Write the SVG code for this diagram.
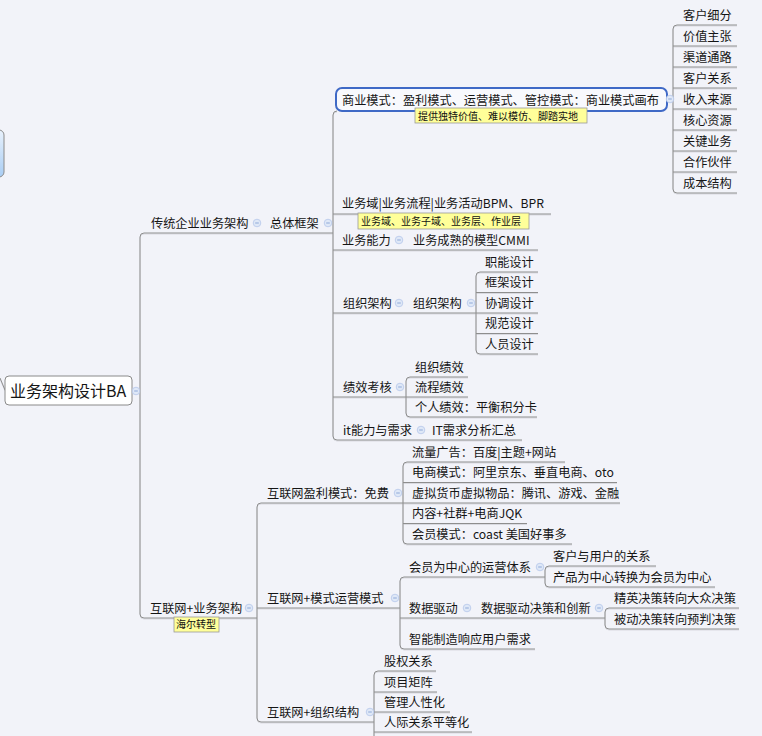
<svg xmlns="http://www.w3.org/2000/svg" xmlns:xlink="http://www.w3.org/1999/xlink" width="762" height="736" viewBox="0 0 762 736">
<style>
text{font-family:"Noto Sans CJK SC","Noto Sans",sans-serif;font-size:12.2px;fill:#151515}
.n{font-size:10px;fill:#111}
.r{font-size:16px}
.note{fill:#ffff99;stroke:#9a9a9a;stroke-width:0.8}
</style>
<defs>
<linearGradient id="bg1" x1="0" y1="0" x2="0" y2="1">
<stop offset="0" stop-color="#e8f1fc"/><stop offset="1" stop-color="#a9cdf4"/>
</linearGradient>
<g id="ic"><circle r="3.8" fill="#dfe8f7" stroke="#b5c7ea" stroke-width="0.8"/><path d="M-1.8 0H1.8" stroke="#8fa9d8" stroke-width="1"/></g>
<g id="lines">
<path d="M132 391H140"/>
<path d="M333 233H144Q140 233 140 237V614Q140 618 144 618H257"/>
<path d="M337 111Q333 111 333 115V436Q333 440 337 440H522"/>
<path d="M333 214H551M333 250H538M333 313H476M333 397H406M667 99H673"/>
<path d="M737 25H677Q673 25 673 29V189Q673 193 677 193H737"/>
<path d="M673 46H737M673 67H737M673 88H737M673 109H737M673 130H737M673 151H737M673 172H737"/>
<path d="M538 272H480Q476 272 476 276V350Q476 354 480 354H538"/>
<path d="M476 292.5H538M476 313H538M476 333.5H538"/>
<path d="M468 377H410Q406 377 406 381V413Q406 417 410 417H537M406 397H468"/>
<path d="M403 503H261Q257 503 257 507V718Q257 722 261 722H374M257 608H400"/>
<path d="M565 462H407Q403 462 403 466V540Q403 544 407 544H572"/>
<path d="M403 482.5H617M403 503H620M403 523.5H527"/>
<path d="M545 577H404Q400 577 400 581V645Q400 649 404 649H535M400 618H605"/>
<path d="M656 566H549Q545 566 545 570V583Q545 587 549 587H715"/>
<path d="M739 608H609Q605 608 605 612V625Q605 629 609 629H739"/>
<path d="M436 671H378Q374 671 374 675V740M374 692H437M374 712H450M374 732H472"/>
<path d="M0 378L5 390"/>
</g>
</defs>
<rect width="762" height="736" fill="#f2f3f9"/>

<g id="connectors" fill="none" stroke-width="1">
<use xlink:href="#lines" stroke="#d9dae1" transform="translate(0,1)"/>
<use xlink:href="#lines" stroke="#8e8e8e"/>
</g>

<g id="offscreen-node"><rect x="-20" y="130" width="24" height="47" rx="5" fill="url(#bg1)" stroke="#8a8a8a"/></g>

<g id="root"><rect x="5" y="376" width="127" height="29" rx="4" fill="#ffffff" stroke="#8a8a8a"/><text class="r" x="10" y="397">业务架构设计BA</text><use xlink:href="#ic" x="136" y="391"/></g>

<g id="n-traditional"><text x="151" y="227.5">传统企业业务架构</text><use xlink:href="#ic" x="257" y="223"/></g>
<g id="n-framework"><text x="270" y="227.5">总体框架</text><use xlink:href="#ic" x="328" y="223"/></g>

<g id="n-bizmodel"><rect x="336" y="88" width="331" height="23" rx="6" fill="#f8f9fd" stroke="#3f69c6" stroke-width="2"/><text x="342" y="104.5">商业模式：盈利模式、运营模式、管控模式：商业模式画布</text><use xlink:href="#ic" x="670" y="99"/>
<rect class="note" x="415" y="108" width="172" height="15"/><text class="n" x="418" y="119.5">提供独特价值、难以模仿、脚踏实地</text></g>

<g id="n-canvas">
<text x="683" y="19.5">客户细分</text>
<text x="683" y="40.5">价值主张</text>
<text x="683" y="61.5">渠道通路</text>
<text x="683" y="82.5">客户关系</text>
<text x="683" y="103.5">收入来源</text>
<text x="683" y="124.5">核心资源</text>
<text x="683" y="145.5">关键业务</text>
<text x="683" y="166.5">合作伙伴</text>
<text x="683" y="187.5">成本结构</text>
</g>

<g id="n-domain"><text x="342" y="207.5">业务域|业务流程|业务活动BPM、BPR</text>
<rect class="note" x="358" y="213" width="171" height="16"/><text class="n" x="361" y="224.5">业务域、业务子域、业务层、作业层</text></g>

<g id="n-capability"><text x="342" y="244.5">业务能力</text><use xlink:href="#ic" x="399" y="240"/><text x="413" y="244.5">业务成熟的模型CMMI</text></g>

<g id="n-org"><text x="343" y="307.5">组织架构</text><use xlink:href="#ic" x="399" y="303"/><text x="413" y="307.5">组织架构</text><use xlink:href="#ic" x="471" y="303"/>
<text x="485" y="266.5">职能设计</text>
<text x="485" y="287">框架设计</text>
<text x="485" y="307.5">协调设计</text>
<text x="485" y="328">规范设计</text>
<text x="485" y="348.5">人员设计</text>
</g>

<g id="n-perf"><text x="343" y="391.5">绩效考核</text><use xlink:href="#ic" x="400" y="387"/>
<text x="415" y="371.5">组织绩效</text>
<text x="415" y="391.5">流程绩效</text>
<text x="415" y="411.5">个人绩效：平衡积分卡</text>
</g>

<g id="n-it"><text x="343" y="434.5">it能力与需求</text><use xlink:href="#ic" x="421" y="430"/><text x="432" y="434.5">IT需求分析汇总</text></g>

<g id="n-internet"><text x="150" y="612.5">互联网+业务架构</text><use xlink:href="#ic" x="249" y="608"/>
<rect class="note" x="174" y="617" width="45" height="15"/><text class="n" x="176" y="628">海尔转型</text></g>

<g id="n-profit"><text x="267" y="497.5">互联网盈利模式：免费</text><use xlink:href="#ic" x="398" y="493"/>
<text x="412" y="456.5">流量广告：百度|主题+网站</text>
<text x="412" y="477">电商模式：阿里京东、垂直电商、oto</text>
<text x="412" y="497.5">虚拟货币虚拟物品：腾讯、游戏、金融</text>
<text x="412" y="518">内容+社群+电商JQK</text>
<text x="412" y="538.5">会员模式：coast 美国好事多</text>
</g>

<g id="n-ops"><text x="267" y="602.5">互联网+模式运营模式</text><use xlink:href="#ic" x="395" y="598"/></g>

<g id="n-member"><text x="409" y="571.5">会员为中心的运营体系</text><use xlink:href="#ic" x="540" y="567"/>
<text x="553" y="560.5">客户与用户的关系</text>
<text x="553" y="581.5">产品为中心转换为会员为中心</text>
</g>

<g id="n-data"><text x="409" y="612.5">数据驱动</text><use xlink:href="#ic" x="467" y="608"/><text x="481" y="612.5">数据驱动决策和创新</text><use xlink:href="#ic" x="599" y="608"/>
<text x="614" y="602.5">精英决策转向大众决策</text>
<text x="614" y="623.5">被动决策转向预判决策</text>
</g>

<g id="n-smart"><text x="409" y="643.5">智能制造响应用户需求</text></g>

<g id="n-orgstruct"><text x="267" y="716.5">互联网+组织结构</text><use xlink:href="#ic" x="370" y="712"/>
<text x="384" y="665.5">股权关系</text>
<text x="384" y="686.5">项目矩阵</text>
<text x="384" y="706.5">管理人性化</text>
<text x="384" y="726.5">人际关系平等化</text>
</g>
</svg>
